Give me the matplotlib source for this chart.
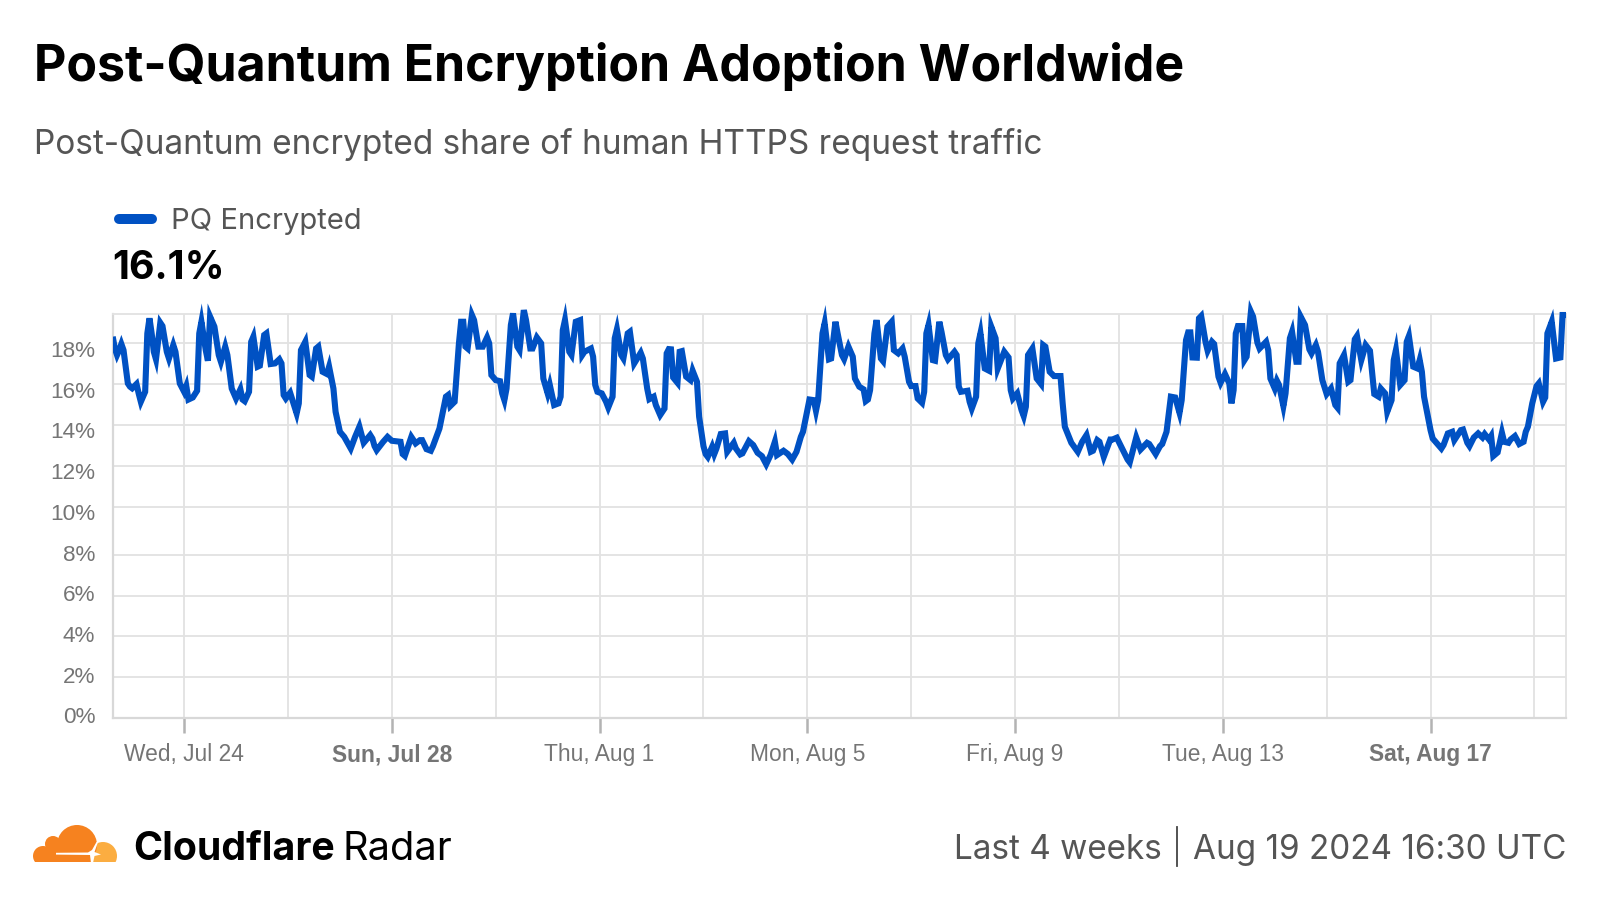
import numpy as np
import matplotlib
matplotlib.use('Agg')
import matplotlib.pyplot as plt
from matplotlib.patches import Circle, Rectangle, Polygon
from matplotlib.transforms import ScaledTranslation

# hours since Jul 22 15:00 UTC
hours = [
    0, 1, 2, 3, 4, 5, 6, 7, 8, 9, 11, 12, 13, 15, 16, 17, 18, 19, 20, 22, 23, 25, 26, 28, 29, 31, 33, 34, 35, 37, 39,
    40, 41, 43, 44, 45, 47, 49, 50, 52, 53, 55, 57, 59, 60, 61, 63, 64, 65, 67, 68, 70, 71, 73, 75, 77, 78, 79, 80, 82,
    85, 86, 87, 89, 91, 92, 94, 95, 97, 99, 100, 102, 103, 105, 107, 110, 112, 114, 116, 119, 120, 121, 122, 125, 127,
    129, 133, 134, 135, 138, 140, 142, 143, 145, 147, 148, 151, 154, 155, 156, 158, 160, 161, 162, 163, 164, 166, 167,
    169, 171, 173, 174, 175, 177, 179, 180, 181, 182, 184, 185, 187, 188, 190, 191, 193, 194, 196, 198, 199, 201, 202,
    204, 206, 207, 208, 209, 211, 212, 214, 216, 217, 218, 221, 222, 223, 224, 226, 228, 229, 231, 232, 233, 235, 236,
    238, 239, 241, 244, 245, 247, 248, 250, 251, 253, 255, 256, 257, 258, 259, 261, 262, 263, 265, 267, 268, 270, 271,
    273, 274, 275, 277, 278, 279, 281, 283, 284, 287, 288, 290, 291, 294, 296, 298, 300, 302, 304, 306, 307, 310, 312,
    314, 316, 318, 319, 322, 324, 325, 326, 328, 329, 331, 332, 334, 335, 337, 338, 340, 342, 343, 345, 347, 348, 349,
    350, 352, 353, 355, 356, 358, 360, 361, 363, 365, 366, 368, 369, 371, 372, 374, 375, 376, 377, 379, 380, 382, 383,
    385, 386, 389, 390, 391, 392, 395, 396, 397, 399, 400, 401, 403, 405, 406, 408, 409, 412, 414, 415, 416, 418, 420,
    421, 422, 423, 425, 427, 429, 430, 431, 433, 435, 438, 439, 440, 443, 446, 448, 450, 452, 453, 455, 456, 458, 461,
    462, 464, 467, 469, 470, 473, 475, 478, 479, 482, 484, 485, 487, 489, 491, 493, 494, 496, 497, 498, 499, 501, 502,
    503, 505, 506, 508, 509, 511, 512, 514, 516, 517, 518, 519, 520, 522, 523, 524, 526, 527, 529, 530, 533, 534, 535,
    537, 538, 539, 541, 542, 544, 545, 547, 548, 549, 551, 553, 554, 556, 557, 559, 561, 563, 565, 566, 567, 569, 571,
    572, 574, 575, 577, 579, 581, 583, 585, 586, 588, 589, 591, 592, 593, 595, 597, 598, 599, 601, 603, 604, 605, 606,
    609, 610, 614, 615, 617, 619, 620, 623, 624, 626, 627, 629, 631, 633, 634, 636, 637, 638, 640, 642, 643, 645, 646,
    648, 650, 652, 653, 654, 656, 658, 659, 661, 662, 663, 665, 667, 669, 670, 672,
]
pq_share = [
    18.33, 17.75, 17.43, 17.67, 17.97, 17.67, 16.86, 16.04, 15.88, 15.80, 16.01, 15.55, 15.14, 15.63, 18.49, 19.23, 18.49, 17.59, 17.22, 19.01, 18.85, 17.59, 17.26, 17.92, 17.59, 16.04, 15.63, 15.91, 15.25, 15.35, 15.68,
    18.49, 19.06, 17.67, 17.15, 19.31, 18.82, 17.43, 17.10, 17.84, 17.43, 15.79, 15.30, 15.75, 15.25, 15.17, 15.63, 18.08, 18.33, 16.86, 16.91, 18.41, 18.49, 16.99, 17.02, 17.22, 17.02, 15.47, 15.30, 15.58,
    14.57, 15.06, 17.67, 18.08, 16.45, 16.37, 17.75, 17.84, 16.61, 16.50, 16.86, 15.79, 14.65, 13.67, 13.42, 12.85, 13.42, 13.92, 13.13, 13.51, 13.34, 12.97, 12.77, 13.18, 13.42,
    13.23, 13.18, 12.58, 12.49, 13.42, 13.10, 13.26, 13.26, 12.82, 12.74, 12.97, 13.83, 15.39, 15.47, 14.93, 15.14, 18.00, 19.06, 19.06, 17.84, 17.75, 19.39, 19.14,
    17.84, 17.84, 18.29, 18.00, 16.45, 16.20, 16.15, 15.55, 15.22, 15.79, 18.90, 19.47, 17.84, 17.67, 19.63, 19.14, 17.75, 17.75, 18.29, 18.00, 16.28, 15.55, 15.96,
    14.98, 15.06, 15.39, 18.65, 19.14, 17.59, 17.43, 19.06, 19.14, 17.43, 17.59, 17.75, 17.35, 15.96, 15.63, 15.55, 15.14, 14.86, 15.39, 18.25, 18.69, 17.43, 17.26,
    18.49, 18.57, 17.02, 17.54, 17.26, 15.79, 15.27, 15.39, 14.98, 14.49, 14.81, 17.51, 17.72, 17.71, 16.33, 16.07, 17.59, 17.62, 16.37, 16.20, 16.66, 16.12, 14.41,
    12.97, 12.58, 12.44, 12.93, 12.58, 12.85, 13.56, 13.59, 12.69, 13.13, 12.85, 12.56, 12.61, 13.21, 13.02, 12.64, 12.48, 12.08, 12.53, 13.18, 12.53, 12.74, 12.58,
    12.31, 12.69, 13.42, 13.67, 15.25, 15.22, 14.70, 15.22, 18.49, 18.98, 17.22, 17.26, 19.06, 18.49, 17.43, 17.23, 17.84, 17.35, 16.28, 15.88, 15.75, 15.17, 15.25,
    15.71, 18.49, 19.14, 17.26, 17.13, 18.82, 19.06, 17.67, 17.51, 17.75, 17.35, 16.12, 15.91, 15.91, 15.30, 15.09, 15.63, 18.49, 18.90, 17.18, 17.15, 19.06, 18.57,
    17.43, 17.22, 17.59, 17.43, 15.88, 15.63, 15.68, 15.14, 14.81, 15.39, 18.00, 18.49, 16.77, 16.66, 18.82, 18.25, 16.77, 17.59, 17.31, 15.71, 15.30, 15.55, 14.73,
    14.44, 14.90, 17.43, 17.75, 16.28, 16.01, 17.92, 17.84, 16.61, 16.40, 16.40, 15.06, 13.92, 13.13, 12.69, 13.18, 13.51, 12.69, 12.74, 13.26, 13.18, 12.44, 13.29,
    13.29, 13.38, 12.74, 12.31, 12.17, 13.39, 12.80, 13.13, 13.07, 12.58, 12.97, 13.07, 13.67, 15.39, 15.35, 14.60, 15.22, 18.16, 18.54, 18.54, 17.31, 17.30, 19.23,
    19.34, 18.08, 17.64, 18.08, 17.97, 16.37, 16.07, 16.50, 16.04, 15.06, 15.71, 18.49, 18.85, 18.85, 17.18, 17.35, 19.55, 19.31, 18.03, 17.75, 18.08, 17.67, 16.28,
    15.79, 16.17, 15.96, 14.93, 15.55, 18.25, 18.57, 17.10, 17.10, 19.31, 18.90, 17.71, 17.51, 17.92, 17.59, 16.20, 15.52, 15.79, 14.98, 14.85, 17.02, 17.43, 16.12,
    16.20, 18.20, 18.36, 17.18, 17.92, 17.64, 15.52, 15.39, 15.79, 15.55, 14.65, 15.22, 17.18, 17.67, 15.96, 16.20, 18.08, 18.36, 16.86, 16.77, 17.18, 16.61, 15.39,
    13.75, 13.34, 12.85, 13.02, 13.59, 13.67, 13.26, 13.75, 13.78, 13.13, 12.97, 13.39, 13.59, 13.39, 13.56, 13.29, 13.46, 12.48, 12.66, 13.62, 13.18, 13.13, 13.29,
    13.46, 13.07, 13.18, 13.67, 13.92, 15.06, 15.91, 16.04, 15.14, 15.35, 18.49, 19.06, 17.26, 17.31, 19.39, 19.39,
]
y_ticks = [0, 2, 4, 6, 8, 10, 12, 14, 16, 18]
y_tick_labels = ['0%', '2%', '4%', '6%', '8%', '10%', '12%', '14%', '16%', '18%']
# hours of the day gridlines, one every 2 days from Jul 24 00:00
grid_hours = [33, 81, 129, 177, 225, 273, 321, 369, 417, 465, 513, 561, 609, 657]
x_labels = ['Wed, Jul 24', 'Sun, Jul 28', 'Thu, Aug 1', 'Mon, Aug 5', 'Fri, Aug 9', 'Tue, Aug 13', 'Sat, Aug 17']
bold_labels = ['Sun, Jul 28', 'Sat, Aug 17']

BLUE = '#0051c3'
GRID = '#e2e2e2'
AXIS = '#d8d8d8'
TICK = '#b3b3b3'
GREY = '#757575'
TEXT = '#555555'

fig = plt.figure(figsize=(16, 9), dpi=100)

# overlay in pixel coordinates for the header, legend and footer
page = fig.add_axes([0, 0, 1, 1])
page.set_xlim(0, 1600)
page.set_ylim(900, 0)
page.axis('off')

# chart frame in pixels
left, right, top, bottom = 112.7, 1566, 314, 717.7
ax = fig.add_axes([left / 1600, 1 - bottom / 900, (right - left) / 1600, (bottom - top) / 900])

# the reference's y axis has a wider gap between 8% and 10%
scale_v = [0, 8, 10, 19.44, 25]
scale_p = [0, 162.7, 211, 403.7, 517]
ax.set_yscale('function', functions=(lambda v: np.interp(v, scale_v, scale_p),
                                     lambda p: np.interp(p, scale_p, scale_v)))
ax.set_ylim(0, 19.44)
ax.set_xlim(0, 671.6)

ax.plot(hours, pq_share, color=BLUE, lw=4.4, solid_joinstyle='miter', solid_capstyle='butt', clip_on=True, zorder=5)
ax.lines[0].set_clip_box(None)
ax.lines[0].set_clip_path(Rectangle((left, 0), right - left, 900, transform=None))

ax.set_yticks(y_ticks)
ax.set_yticklabels(y_tick_labels)
ax.yaxis.set_minor_locator(plt.NullLocator())
ax.set_xticks(grid_hours[::2])
ax.set_xticklabels(x_labels)
ax.set_xticks(grid_hours, minor=True)
ax.grid(True, which='major', color=GRID, lw=1.3, zorder=1)
ax.grid(True, which='minor', axis='x', color=GRID, lw=1.3, zorder=1)
ax.set_axisbelow(True)

for name in ['top', 'right']:
    ax.spines[name].set_color(GRID)
    ax.spines[name].set_linewidth(1.3)
for name in ['left', 'bottom']:
    ax.spines[name].set_color(AXIS)
    ax.spines[name].set_linewidth(1.6)

ax.tick_params(axis='y', length=0, pad=12.5, labelsize=16.2, labelcolor=GREY)
ax.tick_params(axis='x', which='major', length=11, width=1.8, color=TICK, pad=7.3, labelsize=16.4, labelcolor=GREY)
ax.tick_params(axis='x', which='minor', length=0)

for label in ax.get_yticklabels() + ax.get_xticklabels():
    label.set_fontfamily('Liberation Sans')
for label in ax.get_xticklabels():
    if label.get_text() in bold_labels:
        label.set_fontweight('bold')

# y labels keep an even spacing although the gridlines do not
for i, tick in enumerate(ax.yaxis.get_major_ticks()):
    grid_px = bottom - np.interp(y_ticks[i], scale_v, scale_p)
    label_px = 715.3 - 40.7 * i
    shift = ScaledTranslation(0, -(label_px - grid_px) / 100, fig.dpi_scale_trans)
    tick.label1.set_transform(tick.label1.get_transform() + shift)

# header
page.text(33.5, 81, 'Post-Quantum Encryption Adoption Worldwide', family='Inter', weight='bold', fontsize=36, color='black', va='baseline')
page.text(33.5, 154, 'Post-Quantum encrypted share of human HTTPS request traffic', family='Inter', fontsize=24.02, color=TEXT, va='baseline')

# legend
page.plot([119, 152], [219, 219], color=BLUE, lw=7.2, solid_capstyle='round')
page.text(171, 229, 'PQ Encrypted', family='Inter', fontsize=21.05, color=TEXT, va='baseline')
page.text(112, 279, '16.1%', family='Inter', weight='bold', fontsize=28.3, color='black', va='baseline')

# footer logo
ORANGE = '#f6821f'
YELLOW = '#fbad41'
page.add_patch(Circle((103, 856), 14, color=YELLOW, lw=0, zorder=2))
for center, radius in [((77, 845), 20), ((53, 844), 8), ((43, 856), 10)]:
    page.add_patch(Circle(center, radius, color=ORANGE, lw=0, zorder=4))
page.add_patch(Rectangle((43, 848), 48, 14, color=ORANGE, lw=0, zorder=4))
page.add_patch(Polygon([(56, 852.8), (88, 852.5), (92, 850), (96.5, 842), (98, 842), (94.5, 852), (101, 854.5), (94.5, 856),
                        (93, 863), (91, 863), (90, 855), (56, 854.6)], color='white', lw=0, zorder=5))
page.add_patch(Rectangle((28, 862), 95, 10, color='white', lw=0, zorder=6))

page.text(133, 860, 'Cloudflare', family='Inter', weight='bold', fontsize=28.3, color='black', va='baseline')
page.text(342.5, 860, 'Radar', family='Inter', fontsize=28.7, color='black', va='baseline')

page.text(954, 859, 'Last 4 weeks', family='Inter', fontsize=23.95, color=TEXT, va='baseline')
page.plot([1177, 1177], [827, 866], color='#444444', lw=1.3)
page.text(1566, 859, 'Aug 19 2024 16:30 UTC', family='Inter', fontsize=23.95, color=TEXT, va='baseline', ha='right')

fig.savefig('out.png', dpi=100)
